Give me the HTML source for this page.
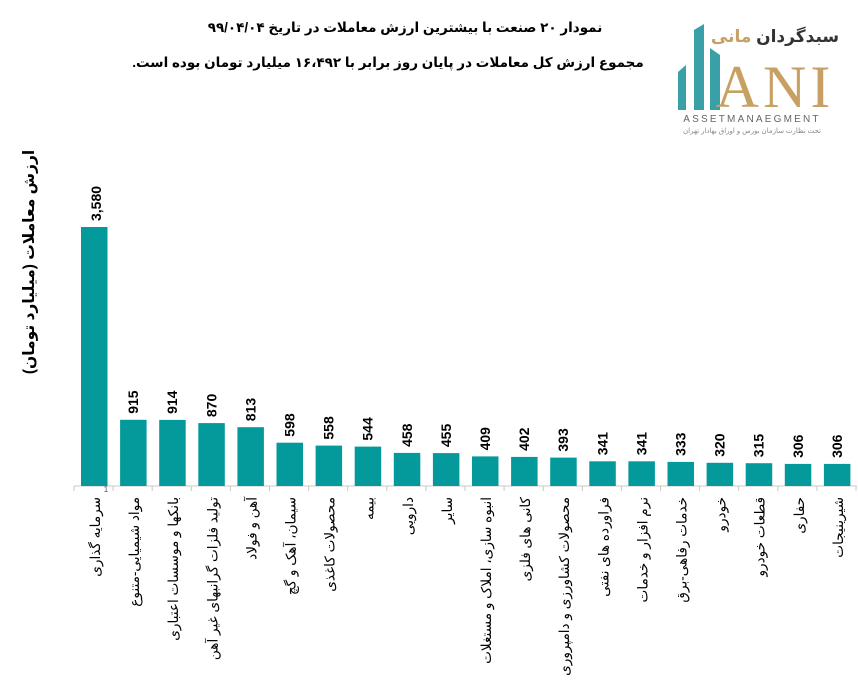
<!DOCTYPE html>
<html><head><meta charset="utf-8"><style>
html,body{margin:0;padding:0;background:#fff;}
svg{display:block;font-family:"Liberation Sans","DejaVu Sans","Noto Sans CJK SC",sans-serif;}
</style></head><body>
<svg width="858" height="680" xmlns="http://www.w3.org/2000/svg">
<rect width="858" height="680" fill="#fff"/>
<g font-weight="bold" fill="#000" text-anchor="middle" direction="rtl">
<text x="405" y="32" font-size="13.5">نمودار  ۲۰ صنعت با بیشترین ارزش معاملات در تاریخ ۹۹/۰۴/۰۴</text>
<text x="388" y="67" font-size="13.5">مجموع ارزش  کل معاملات در پایان روز برابر با ۱۶،۴۹۲ میلیارد تومان بوده است.</text>
</g>
<g>
<polygon points="678,110 678,72 686,65 686,110" fill="#3aa0a8"/>
<polygon points="694,110 694,30 704,24 704,110" fill="#3aa0a8"/>
<polygon points="710,110 710,48 720,55 720,110" fill="#3aa0a8"/>
<text x="775" y="107" font-family="Liberation Serif,serif" font-size="60" fill="#c9a063" text-anchor="middle" letter-spacing="4">ANI</text>
<text x="775" y="42" font-size="17" font-weight="bold" fill="#333" text-anchor="middle" direction="rtl">سبدگردان <tspan fill="#c9a063">مانی</tspan></text>
<text x="752" y="122" font-size="10" fill="#666" text-anchor="middle" letter-spacing="2.2">ASSETMANAEGMENT</text>
<text x="752" y="133" font-size="7" fill="#888" text-anchor="middle" direction="rtl">تحت نظارت سازمان بورس و اوراق بهادار تهران</text>
</g>
<text transform="translate(34,262) rotate(-90)" font-size="15.5" font-weight="bold" text-anchor="middle" direction="rtl">ارزش معاملات (میلیارد تومان)</text>
<line x1="74" y1="486" x2="857" y2="486" stroke="#c8c8c8" stroke-width="1"/>
<g fill="#04999b">
<rect x="81" y="227" width="26.5" height="259"/>
<rect x="120.1" y="419.8" width="26.5" height="66.2"/>
<rect x="159.2" y="419.9" width="26.5" height="66.1"/>
<rect x="198.3" y="423.1" width="26.5" height="62.9"/>
<rect x="237.4" y="427.2" width="26.5" height="58.8"/>
<rect x="276.5" y="442.7" width="26.5" height="43.3"/>
<rect x="315.6" y="445.6" width="26.5" height="40.4"/>
<rect x="354.7" y="446.6" width="26.5" height="39.4"/>
<rect x="393.8" y="452.9" width="26.5" height="33.1"/>
<rect x="432.9" y="453.1" width="26.5" height="32.9"/>
<rect x="472" y="456.4" width="26.5" height="29.6"/>
<rect x="511.1" y="456.9" width="26.5" height="29.1"/>
<rect x="550.2" y="457.6" width="26.5" height="28.4"/>
<rect x="589.3" y="461.3" width="26.5" height="24.7"/>
<rect x="628.4" y="461.3" width="26.5" height="24.7"/>
<rect x="667.5" y="461.9" width="26.5" height="24.1"/>
<rect x="706.6" y="462.8" width="26.5" height="23.2"/>
<rect x="745.7" y="463.2" width="26.5" height="22.8"/>
<rect x="784.8" y="463.9" width="26.5" height="22.1"/>
<rect x="823.9" y="463.9" width="26.5" height="22.1"/>
</g>
<g stroke="#c8c8c8">
<line x1="74" y1="486" x2="74" y2="491"/><line x1="113.1" y1="486" x2="113.1" y2="491"/><line x1="152.2" y1="486" x2="152.2" y2="491"/><line x1="191.3" y1="486" x2="191.3" y2="491"/><line x1="230.4" y1="486" x2="230.4" y2="491"/><line x1="269.5" y1="486" x2="269.5" y2="491"/><line x1="308.6" y1="486" x2="308.6" y2="491"/><line x1="347.7" y1="486" x2="347.7" y2="491"/><line x1="386.8" y1="486" x2="386.8" y2="491"/><line x1="425.9" y1="486" x2="425.9" y2="491"/><line x1="465" y1="486" x2="465" y2="491"/><line x1="504.1" y1="486" x2="504.1" y2="491"/><line x1="543.2" y1="486" x2="543.2" y2="491"/><line x1="582.3" y1="486" x2="582.3" y2="491"/><line x1="621.4" y1="486" x2="621.4" y2="491"/><line x1="660.5" y1="486" x2="660.5" y2="491"/><line x1="699.6" y1="486" x2="699.6" y2="491"/><line x1="738.7" y1="486" x2="738.7" y2="491"/><line x1="777.8" y1="486" x2="777.8" y2="491"/><line x1="816.9" y1="486" x2="816.9" y2="491"/><line x1="856" y1="486" x2="856" y2="491"/>
</g>
<text x="106" y="492" font-size="8" fill="#555" text-anchor="middle">1</text>
<g font-size="14" font-weight="bold">
<text transform="translate(101,221) rotate(-90)">3,580</text>
<text transform="translate(138.1,413.8) rotate(-90)">915</text>
<text transform="translate(177.2,413.9) rotate(-90)">914</text>
<text transform="translate(216.3,417.1) rotate(-90)">870</text>
<text transform="translate(255.4,421.2) rotate(-90)">813</text>
<text transform="translate(294.5,436.7) rotate(-90)">598</text>
<text transform="translate(333.6,439.6) rotate(-90)">558</text>
<text transform="translate(372.7,440.6) rotate(-90)">544</text>
<text transform="translate(411.8,446.9) rotate(-90)">458</text>
<text transform="translate(450.9,447.1) rotate(-90)">455</text>
<text transform="translate(490,450.4) rotate(-90)">409</text>
<text transform="translate(529.1,450.9) rotate(-90)">402</text>
<text transform="translate(568.2,451.6) rotate(-90)">393</text>
<text transform="translate(607.3,455.3) rotate(-90)">341</text>
<text transform="translate(646.4,455.3) rotate(-90)">341</text>
<text transform="translate(685.5,455.9) rotate(-90)">333</text>
<text transform="translate(724.6,456.8) rotate(-90)">320</text>
<text transform="translate(763.7,457.2) rotate(-90)">315</text>
<text transform="translate(802.8,457.9) rotate(-90)">306</text>
<text transform="translate(841.9,457.9) rotate(-90)">306</text>
</g>
<g font-size="13.6" direction="rtl" text-anchor="start">
<text transform="translate(100,497) rotate(-90)">سرمایه گذاری</text>
<text transform="translate(139.1,497) rotate(-90)">مواد شیمیایی-متنوع</text>
<text transform="translate(178.2,497) rotate(-90)">بانکها و موسسات اعتباری</text>
<text transform="translate(217.3,497) rotate(-90)">تولید فلزات گرانبهای غیر آهن</text>
<text transform="translate(256.4,497) rotate(-90)">آهن و فولاد</text>
<text transform="translate(295.5,497) rotate(-90)">سیمان، آهک و گچ</text>
<text transform="translate(334.6,497) rotate(-90)">محصولات کاغذی</text>
<text transform="translate(373.7,497) rotate(-90)">بیمه</text>
<text transform="translate(412.8,497) rotate(-90)">دارویی</text>
<text transform="translate(451.9,497) rotate(-90)">سایر</text>
<text transform="translate(491,497) rotate(-90)">انبوه سازی، املاک و مستغلات</text>
<text transform="translate(530.1,497) rotate(-90)">کانی های فلزی</text>
<text transform="translate(569.2,497) rotate(-90)">محصولات کشاورزی و دامپروری</text>
<text transform="translate(608.3,497) rotate(-90)">فراورده های نفتی</text>
<text transform="translate(647.4,497) rotate(-90)">نرم افزار و خدمات</text>
<text transform="translate(686.5,497) rotate(-90)">خدمات رفاهی-برق</text>
<text transform="translate(725.6,497) rotate(-90)">خودرو</text>
<text transform="translate(764.7,497) rotate(-90)">قطعات خودرو</text>
<text transform="translate(803.8,497) rotate(-90)">حفاری</text>
<text transform="translate(842.9,497) rotate(-90)">شیرینیجات</text>
</g>
</svg>
</body></html>
